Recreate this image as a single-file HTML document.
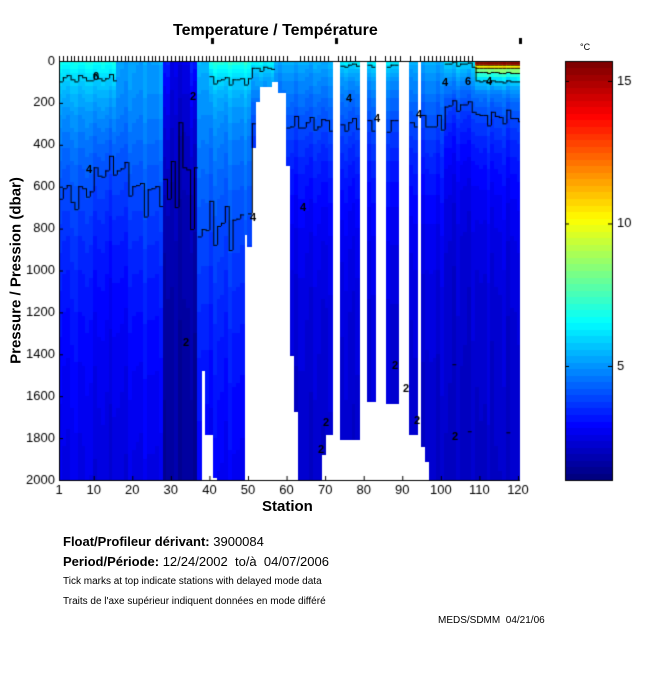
<!DOCTYPE html>
<html><head><meta charset="utf-8"><style>
body{margin:0;background:#fff;width:650px;height:680px;overflow:hidden;position:relative;font-family:"Liberation Sans",sans-serif}
canvas{position:absolute;left:0;top:0}
.t{position:absolute;white-space:nowrap;color:#000}
</style></head><body>
<canvas id="c" width="650" height="680"></canvas>
<div class="t" style="left:173px;top:22px;font-size:16px;font-weight:bold">Temperature / Température</div>
<div class="t" style="left:-84px;top:262px;font-size:15px;font-weight:bold;transform:rotate(-90deg);width:200px;text-align:center">Pressure / Pression (dbar)</div>
<div class="t" style="left:262px;top:498px;font-size:15px;font-weight:bold">Station</div>
<div class="t" style="left:580px;top:42px;font-size:9px">°C</div>
<div class="t" style="left:63px;top:534px;font-size:13px"><b>Float/Profileur dérivant:</b> 3900084</div>
<div class="t" style="left:63px;top:554px;font-size:13px"><b>Period/Période:</b> 12/24/2002&nbsp; to/à&nbsp; 04/07/2006</div>
<div class="t" style="left:63px;top:576px;font-size:10px">Tick marks at top indicate stations with delayed mode data</div>
<div class="t" style="left:63px;top:596px;font-size:10px">Traits de l'axe supérieur indiquent données en mode différé</div>
<div class="t" style="left:438px;top:615px;font-size:10px">MEDS/SDMM&nbsp; 04/21/06</div>
<script>
const c=document.getElementById('c').getContext('2d');
const X0=59,DX=3.857,Y0=61,Y1=480,PY=(Y1-Y0)/2000;
function jet(t){t=Math.max(0,Math.min(1,t));t=Math.floor(t*63.999)/63;
const f=v=>Math.round(255*Math.max(0,Math.min(1,v)));
return`rgb(${f(1.5-Math.abs(4*t-3))},${f(1.5-Math.abs(4*t-2))},${f(1.5-Math.abs(4*t-1))})`;}
const TMIN=1,TMAX=15.7;
function g(p,P4){const k=1.47*P4;return 2.0+3.0/(1+Math.pow(p/k,1.8));}
function T(s,p){const n=0.12*Math.sin(s*1.7)+0.08*Math.sin(s*3.1);
let v;
if(s<=27)v=g(p,560+80*Math.sin(s/3))+(s<=15?1.8*Math.exp(-p/150):0.2*Math.exp(-p/200));
else if(s<=36){v=1.5+1.1*Math.exp(-p/600);if(s<=29||s>=35)v+=0.8*Math.exp(-p/400);}
else if(s<=50)v=g(p,780)+(s>=40?2.2*Math.exp(-p/120):0.6*Math.exp(-p/100));
else if(s<=56)v=g(p,300)+1.6*Math.exp(-p/80);
else if(s<=100)v=g(p,300)+((s>=72&&s<=90)?1.5:0.5)*Math.exp(-p/50);
else if(s<=108)v=g(p,200)+1.2*Math.exp(-p/70);
else v=g(p,260)+10.5*Math.exp(-p/45);
return v+n;}
function bottom(x){
const R=[[201,480],[204,371],[212,435],[216,478],[219,468],[243,480],[247,235],[251,247],[255,148],[260,102],[270,87],[277,82],[280,87],[285,93],[289,166],[293,356],[297,412],[300,391],[320,480],[325,455],[331,435],[339,61],[358,440],[369,61],[377,402],[385,61],[400,404],[411,61],[416,435],[423,61],[427,447],[430,462],[999,480]];
for(const [e,v] of R) if(x<e) return v; return 480;}
const cols=[];
for(let s=1;s<=120;s++){const xa=X0+(s-1)*DX,xb=Math.min(520,xa+DX);const bt=bottom(xa+DX/2);cols.push({xa,xb,bt});
for(let p=0;p<2000;p+=20){const ya=Y0+p*PY,yb=ya+20*PY;if(ya>=bt)break;
c.fillStyle=jet((T(s,p+10)-TMIN)/(TMAX-TMIN));c.fillRect(Math.floor(xa),Math.floor(ya),Math.ceil(xb)-Math.floor(xa),Math.ceil(Math.min(yb,bt))-Math.floor(ya));}}
c.strokeStyle='#000';c.lineWidth=1;
for(const L of [2,4,6,8,10,12,14]){let prev=null;
for(let s=1;s<=120;s++){const col=cols[s-1];let y=null;
for(let p=0;p<2000;p+=5){if((T(s,p)-L)*(T(s,p+5)-L)<=0){y=Y0+(p+2.5)*PY;break;}}
if(y===null||y>col.bt||col.bt<=61){prev=null;continue;}
c.beginPath();c.moveTo(col.xa,y+.5);c.lineTo(col.xb,y+.5);
if(prev!==null){c.moveTo(col.xa+.5,prev);c.lineTo(col.xa+.5,y);}c.stroke();prev=y;}}
c.fillStyle='#000';c.strokeStyle='#000';
c.beginPath();c.moveTo(X0,Y0+.5);c.lineTo(520,Y0+.5);c.moveTo(X0+.5,Y0);c.lineTo(X0+.5,Y1);c.moveTo(X0,Y1+.5);c.lineTo(520,Y1+.5);c.stroke();
c.font='13px "Liberation Sans",sans-serif';c.textAlign='right';c.textBaseline='middle';
for(let p=0;p<=2000;p+=200){const y=Y0+p*PY;c.fillText(p,55,y);c.beginPath();c.moveTo(X0,y+.5);c.lineTo(X0+4,y+.5);c.stroke();}
c.textAlign='center';c.textBaseline='top';
[1,10,20,30,40,50,60,70,80,90,100,110,120].forEach(s=>{const x=X0+(s-1)*DX;c.fillText(s,x,484);c.beginPath();c.moveTo(x+.5,Y1);c.lineTo(x+.5,Y1-4);c.stroke();});
const tick=[];for(let s=1;s<=60;s++)tick.push(s);
for(const x of [300,304,308,312,316,320,324,328,338,342,346,350,355,370,375,385,390,395,400,410,420,424,428,432,436,440,444,448,452,456,460,464,468,472])tick.push((x-X0)/DX+1);
c.beginPath();for(const s of tick){const x=Math.round(X0+(s-1)*DX)+.5;c.moveTo(x,Y0-5);c.lineTo(x,Y0);}c.stroke();
c.fillRect(211,38,3,6);c.fillRect(335,38,3,6);c.fillRect(519,38,3,6);
for(let y=61;y<480;y++){const v=TMIN+(480-y)/(419)*(TMAX-TMIN);c.fillStyle=jet((v-TMIN)/(TMAX-TMIN));c.fillRect(565,y,48,1);}
c.strokeRect(565.5,61.5,47,419);
c.fillStyle='#000';c.textAlign='left';c.textBaseline='middle';
[5,10,15].forEach(v=>{const y=480-(v-TMIN)/(TMAX-TMIN)*419;c.fillText(v,617,y);c.beginPath();c.moveTo(565,y+.5);c.lineTo(569,y+.5);c.moveTo(612,y+.5);c.lineTo(608,y+.5);c.stroke();});
c.font='bold 11px "Liberation Sans",sans-serif';
[[93,77,'6'],[86,170,'4'],[190,97,'2'],[183,343,'2'],[250,218,'4'],[300,208,'4'],[346,99,'4'],[374,119,'4'],[416,115,'4'],[392,366,'2'],[403,389,'2'],[414,421,'2'],[452,437,'2'],[323,423,'2'],[318,450,'2'],[442,83,'4'],[486,82,'4'],[465,82,'6']].forEach(([x,y,t])=>c.fillText(t,x,y));
</script>
</body></html>
